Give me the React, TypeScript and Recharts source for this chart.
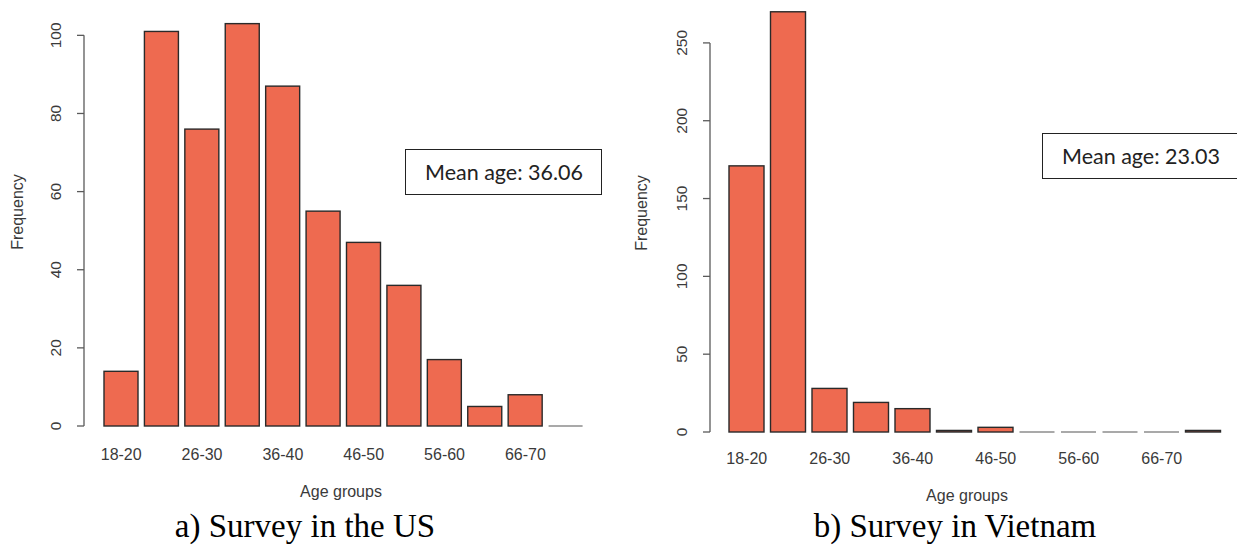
import React from 'react';
import { BarChart, Bar, XAxis, YAxis } from 'recharts';

// age bins (only every other one is labelled, like R's barplot does)
const ageGroups = ['18-20', '21-25', '26-30', '31-35', '36-40', '41-45', '46-50', '51-55', '56-60', '61-65', '66-70', '71+'];
const usFrequency = [14, 101, 76, 103, 87, 55, 47, 36, 17, 5, 8, 0];
const vnFrequency = [171, 270, 28, 19, 15, 1, 3, 0, 0, 0, 0, 1];
const usTicks = [0, 20, 40, 60, 80, 100];
const vnTicks = [0, 50, 100, 150, 200, 250];
const usMeanAge = '36.06';
const vnMeanAge = '23.03';

const FILL = '#EE6A50';
const BORDER = '#2a2a2a';
const AXIS = '#5a5a5a';
const TEXT = '#3a3a3a';
const SANS = '"Liberation Sans", Arial, sans-serif';

const barShape = (props: any) => {
  const { x, y, width, height } = props;
  if (!(height > 0.5)) {
    const yy = y + (height || 0);
    return <line x1={x} x2={x + width} y1={yy} y2={yy} stroke="#8c8c8c" strokeWidth={1.6} />;
  }
  return <rect x={x} y={y} width={width} height={height} fill={FILL} stroke={BORDER} strokeWidth={1.4} />;
};

const makeYTick = (axisX: number, plotBottom: number, maxTick: number) => (props: any) => {
  const { y, payload } = props;
  const tx = axisX - 23;
  return (
    <g>
      <line x1={axisX - 7} x2={axisX} y1={y} y2={y} stroke={AXIS} strokeWidth={1.3} />
      {payload.value === maxTick && (
        <line x1={axisX} x2={axisX} y1={y} y2={plotBottom} stroke={AXIS} strokeWidth={1.3} />
      )}
      <text x={tx} y={y} transform={`rotate(-90 ${tx} ${y})`} textAnchor="middle"
        fontFamily={SANS} fontSize={15.5} fill={TEXT}>
        {payload.value}
      </text>
    </g>
  );
};

const makeXTick = (plotBottom: number, dy: number) => (props: any) => {
  const { x, payload } = props;
  return (
    <text x={x} y={plotBottom + dy} textAnchor="middle" fontFamily={SANS} fontSize={16} fill={TEXT}>
      {payload.value}
    </text>
  );
};

type PanelProps = {
  values: number[];
  ticks: number[];
  yMax: number;
  left: number;
  width: number;
  top: number;
  right: number;
  axisW: number;
  plotBottom: number;
  padL: number;
  padR: number;
  barSize: number;
  tickDy: number;
};

function Panel(p: PanelProps) {
  const data = ageGroups.map((g, i) => ({ group: g, freq: p.values[i] }));
  const height = 545;
  return (
    <div style={{ position: 'absolute', left: p.left, top: 0 }}>
      <BarChart width={p.width} height={height} data={data}
        margin={{ top: p.top, right: p.right, bottom: 0, left: 0 }}>
        <XAxis dataKey="group" interval={1} axisLine={false} tickLine={false}
          height={height - p.plotBottom} padding={{ left: p.padL, right: p.padR }}
          tick={makeXTick(p.plotBottom, p.tickDy)} />
        <YAxis type="number" domain={[0, p.yMax]} ticks={p.ticks} interval={0}
          width={p.axisW} axisLine={false} tickLine={false}
          tick={makeYTick(p.axisW, p.plotBottom, p.ticks[p.ticks.length - 1])} />
        <Bar dataKey="freq" barSize={p.barSize} shape={barShape} isAnimationActive={false} />
      </BarChart>
    </div>
  );
}

const abs = (x: number, y: number, extra: React.CSSProperties = {}): React.CSSProperties => ({
  position: 'absolute', left: x, top: y, transform: 'translate(-50%, -50%)', whiteSpace: 'nowrap', ...extra,
});

export default function App() {
  const axisText: React.CSSProperties = { fontFamily: SANS, fontSize: 16, color: TEXT };
  const caption: React.CSSProperties = { fontFamily: '"Liberation Serif", "Times New Roman", serif', fontSize: 33, color: '#000' };
  const box: React.CSSProperties = {
    position: 'absolute', width: 197, height: 46, border: '1.5px solid #222', background: '#fff',
    fontFamily: 'Lato, "Open Sans", sans-serif', fontSize: 21.5, color: '#222',
    display: 'flex', alignItems: 'center', paddingLeft: 19, boxSizing: 'border-box',
  };
  return (
    <div style={{ position: 'absolute', left: 0, top: 0, width: 1237, height: 545, overflow: 'hidden', background: '#fff' }}>
      <Panel values={usFrequency} ticks={usTicks} yMax={107} left={0} width={600} top={8} right={11}
        axisW={84} plotBottom={426} padL={17} padR={3} barSize={34} tickDy={34} />
      <Panel values={vnFrequency} ticks={vnTicks} yMax={275} left={620} width={617} top={4} right={10}
        axisW={90} plotBottom={432} padL={16} padR={3} barSize={35} tickDy={32} />

      <div style={abs(18, 212, { ...axisText, transform: 'translate(-50%, -50%) rotate(-90deg)' })}>Frequency</div>
      <div style={abs(642, 213, { ...axisText, transform: 'translate(-50%, -50%) rotate(-90deg)' })}>Frequency</div>
      <div style={abs(341, 492, axisText)}>Age groups</div>
      <div style={abs(967, 496, axisText)}>Age groups</div>

      <div style={{ ...box, left: 405, top: 149 }}>Mean age: {usMeanAge}</div>
      <div style={{ ...box, left: 1042, top: 133, width: 198 }}>Mean age: {vnMeanAge}</div>

      <div style={abs(305, 526, caption)}>a) Survey in the US</div>
      <div style={abs(955, 526, caption)}>b) Survey in Vietnam</div>
    </div>
  );
}
